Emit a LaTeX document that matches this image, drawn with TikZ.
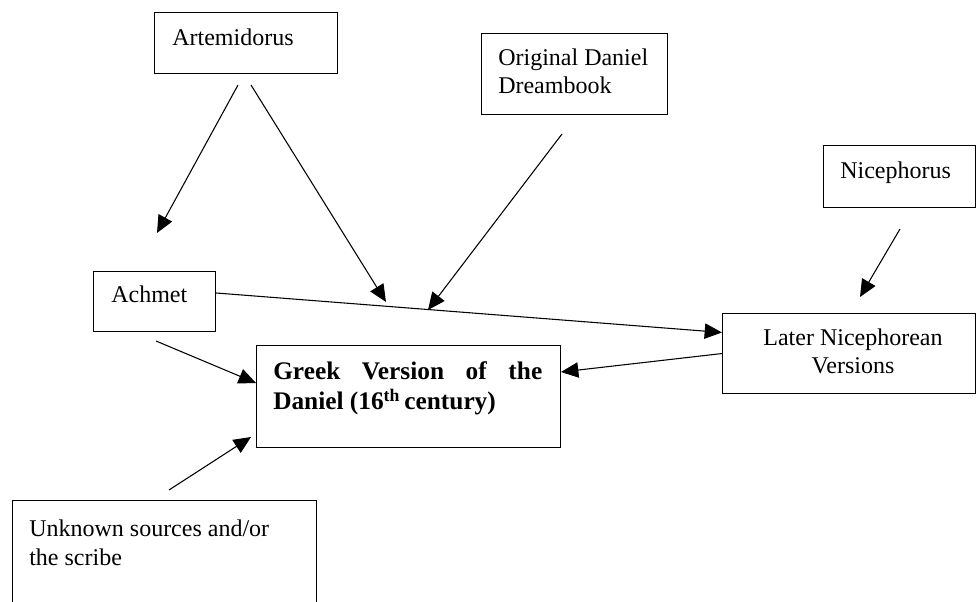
\documentclass[tikz,border=0pt]{standalone}
\usepackage{fontspec}
\setmainfont{Liberation Serif}
\usetikzlibrary{arrows.meta,calc}
\begin{document}
\begin{tikzpicture}[x=0.75pt,y=-0.75pt,
  box/.style={draw,line width=0.8pt,rectangle,inner sep=0pt,anchor=north west},
  txt/.style={inner sep=0pt,anchor=base west,font=\fontsize{18}{21}\selectfont},
  arr/.style={line width=0.8pt,-{Triangle[length=13pt,width=11.5pt]}}]
\clip (0,0) rectangle (976,601);
% boxes
\node[box,minimum width=137.25pt,minimum height=45.75pt] (art) at (154,12) {};
\node[box,minimum width=139.5pt,minimum height=60.75pt] (dream) at (481,33) {};
\node[box,minimum width=114pt,minimum height=46.5pt] (nice) at (823,145) {};
\node[box,minimum width=91.5pt,minimum height=45pt] (achmet) at (93,271) {};
\node[box,minimum width=228pt,minimum height=76.5pt] (greek) at (256,345) {};
\node[box,minimum width=189.75pt,minimum height=60pt] (later) at (722,313) {};
\node[box,minimum width=228pt,minimum height=90pt] (unknown) at (12,500) {};
% texts
\node[txt] (tart) at (172,45) {Artemidorus};
\node[txt] (tdream1) at (498,65) {Original Daniel};
\node[txt] (tdream2) at (498,93) {Dreambook};
\node[txt] (tnice) at (840,178) {Nicephorus};
\node[txt] (tachmet) at (111,302) {Achmet};
\node[txt,anchor=base] (tlater1) at (853,345) {Later Nicephorean};
\node[txt,anchor=base] (tlater2) at (853,373) {Versions};
\node[txt] (tunk1) at (29,536) {Unknown sources and/or};
\node[txt] (tunk2) at (29,565) {the scribe};
\node[txt] (tgreek) at (273,379) {\parbox[t]{201.75pt}{\fontsize{19}{23}\selectfont\bfseries Greek Version of the\linebreak Daniel (16\textsuperscript{th}\,century)}};
% connector ends
\coordinate (s1) at (238,85);  \coordinate (e1) at (157,233);
\coordinate (s2) at (251,85);  \coordinate (e2) at (386,302);
\coordinate (s3) at (562,134); \coordinate (e3) at (428,310);
\coordinate (s4) at (900,229); \coordinate (e4) at (860,297);
\coordinate (s5) at ($(achmet.north east)!0.36!(achmet.south east)$);
\coordinate (e5) at ($(later.north west)!0.24!(later.south west)$);
\coordinate (e6) at (561,372);
\coordinate (s7) at (156,341); \coordinate (e7) at (256,383);
\coordinate (s8) at (169,490); \coordinate (e8) at (251,437);
% connectors
\draw[arr] (s1) -- (e1);
\draw[arr] (s2) -- (e2);
\draw[arr] (s3) -- (e3);
\draw[arr] (s4) -- (e4);
\draw[arr] (s5) -- (e5);
\draw[arr] (later.west) -- (e6);
\draw[arr] (s7) -- (e7);
\draw[arr] (s8) -- (e8);
\end{tikzpicture}
\end{document}
